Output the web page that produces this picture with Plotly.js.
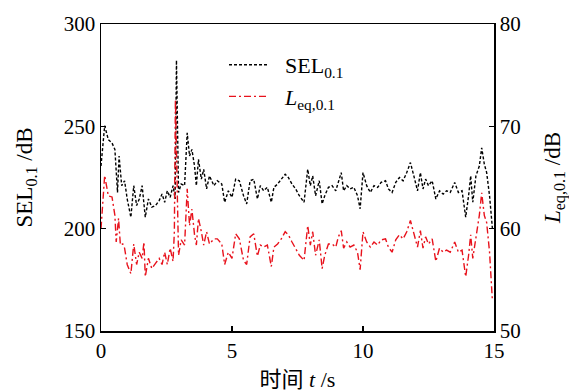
<!DOCTYPE html>
<html>
<head>
<meta charset="utf-8">
<script src="https://cdn.plot.ly/plotly-3.0.1.min.js"></script>
<style>html,body{margin:0;padding:0;background:#fff;}#chart{width:569px;height:392px;}</style>
</head>
<body>
<div id="chart"></div>
<script>
// SEL_0.1 (left axis, dB)
const selTime = [0.00,0.14,0.28,0.42,0.53,0.63,0.69,0.79,0.90,1.00,1.14,1.25,1.36,1.46,1.57,1.69,1.81,1.94,2.08,2.22,2.33,2.43,2.53,2.64,2.75,2.83,2.88,
2.96,3.06,3.19,3.29,3.38,3.47,3.57,3.64,3.72,3.83,3.92,4.03,4.14,4.31,4.44,4.61,4.72,4.86,5.00,5.14,5.28,5.44,5.56,5.69,5.83,5.97,6.08,6.21,6.35,6.50,6.60,6.74,6.88,
7.03,7.15,7.29,7.43,7.57,7.75,7.89,7.99,8.08,8.19,8.33,8.44,8.54,8.68,8.82,8.96,9.06,9.17,9.26,9.38,9.51,9.65,9.79,9.89,10.00,10.14,10.28,10.42,10.56,10.69,10.86,10.97,
11.11,11.25,11.39,11.53,11.67,11.81,11.94,12.08,12.19,12.29,12.39,12.50,12.64,12.78,12.92,13.06,13.19,13.33,13.50,13.64,13.78,13.92,14.03,14.11,14.19,14.31,14.44,14.53,14.63,14.72,14.83,14.94];
const selValues = [230.6,250.3,243.5,241.9,238.7,217.7,235.5,221.0,223.4,214.5,205.6,221.0,211.3,214.5,221.0,205.6,214.5,210.5,211.3,213.7,216.9,212.9,218.5,215.3,221.0,214.5,282.3,
217.7,221.8,221.0,246.8,235.5,238.7,230.6,221.0,233.9,224.2,229.0,219.4,225.8,221.0,223.4,221.8,212.9,218.5,215.3,224.2,223.4,216.1,212.1,223.4,224.2,214.5,221.0,218.5,220.2,212.9,220.2,221.8,224.2,
226.6,225.0,221.8,219.4,216.1,212.9,229.0,221.0,225.8,216.1,223.4,212.1,216.1,220.2,221.0,218.5,223.4,227.4,218.5,221.0,219.4,220.2,216.1,209.7,227.4,221.0,217.7,221.0,220.2,222.6,223.4,219.4,
217.7,222.6,225.0,223.4,227.4,232.3,225.8,218.5,227.4,219.4,224.2,221.0,223.4,214.5,218.5,216.9,218.5,217.7,222.6,217.7,218.5,205.6,216.1,225.8,212.9,225.8,230.6,239.5,231.5,227.4,216.1,200.0];

// L_eq,0.1 (right axis, dB)
const leqTime = [0.00,0.14,0.28,0.42,0.53,0.58,0.67,0.74,0.83,0.90,1.00,1.14,1.25,1.36,1.46,1.57,1.64,1.69,1.81,1.94,2.08,2.22,2.33,2.43,2.53,2.64,2.75,2.80,2.84,
2.96,3.06,3.19,3.29,3.38,3.47,3.57,3.64,3.72,3.83,3.92,4.03,4.14,4.31,4.44,4.61,4.72,4.86,5.00,5.14,5.28,5.44,5.56,5.69,5.83,5.97,6.08,6.21,6.35,6.50,6.60,6.74,6.88,
7.03,7.15,7.29,7.43,7.57,7.75,7.89,7.99,8.08,8.19,8.33,8.44,8.54,8.68,8.82,8.96,9.06,9.17,9.26,9.38,9.51,9.65,9.79,9.89,10.00,10.14,10.28,10.42,10.56,10.69,10.86,10.97,
11.11,11.25,11.39,11.53,11.67,11.81,11.94,12.08,12.19,12.29,12.39,12.50,12.64,12.78,12.92,13.06,13.19,13.33,13.50,13.64,13.78,13.92,14.03,14.11,14.19,14.31,14.44,14.53,14.63,14.72,14.83,14.94];
const leqValues = [60.0,65.2,63.2,63.1,61.3,58.7,61.0,58.4,58.5,58.1,56.5,55.6,58.5,56.5,57.7,57.1,58.7,55.3,57.1,56.1,56.6,57.1,56.5,57.7,56.5,58.1,56.8,59.7,72.6,
57.4,58.9,58.4,63.9,60.3,61.9,59.4,58.4,61.0,59.7,58.4,59.7,58.5,59.0,59.0,58.5,56.5,57.7,57.1,59.5,59.0,56.9,56.5,59.2,59.5,57.3,58.4,58.2,58.4,56.3,58.2,58.5,59.0,
59.7,59.4,58.7,58.1,57.4,56.9,60.3,58.4,59.7,57.4,58.9,56.1,57.4,58.5,58.5,58.2,59.2,59.8,58.1,58.7,58.2,58.4,57.7,56.0,59.7,58.7,58.2,58.7,58.4,58.9,59.0,58.2,
57.7,58.9,59.4,59.0,59.7,60.8,59.5,58.2,59.8,58.1,59.2,58.5,59.0,56.8,58.1,57.7,57.9,57.7,58.7,57.7,57.9,55.3,57.4,59.4,57.1,59.0,61.3,63.5,61.3,60.6,57.7,52.9];

const xTicks = [0, 5, 10, 15];
const yTicks = [150, 200, 250, 300];
const y2Ticks = [50, 60, 70, 80];

const FONT = '"Liberation Serif", "Noto Sans CJK SC", serif';

const traces = [
  {x: selTime, y: selValues, type: 'scatter', mode: 'lines', name: '&nbsp;&nbsp;SEL<sub>0.1</sub>',
   line: {color: '#000000', width: 1.4, dash: '3px,2px'}, yaxis: 'y'},
  {x: leqTime, y: leqValues, type: 'scatter', mode: 'lines', name: '&nbsp;&nbsp;<i>L</i><sub>eq,0.1</sub>',
   line: {color: '#e8121c', width: 1.4, dash: '7px,3px,2px,3px'}, yaxis: 'y2'}
];

const axisCommon = {
  showgrid: false, zeroline: false, showline: true, linecolor: '#000', linewidth: 1.5,
  ticks: 'inside', ticklen: 5, tickwidth: 1.2, tickcolor: '#000',
  tickfont: {family: FONT, size: 21, color: '#000'}
};

const layout = {
  width: 569, height: 392,
  margin: {l: 101, r: 75, t: 24, b: 61},
  paper_bgcolor: '#fff', plot_bgcolor: '#fff',
  font: {family: FONT, color: '#000'},
  showlegend: true,
  legend: {x: 0.313, y: 0.935, xanchor: 'left', yanchor: 'top', bgcolor: 'rgba(0,0,0,0)',
           font: {family: FONT, size: 22, color: '#000'}, itemwidth: 40, tracegroupgap: 0},
  xaxis: Object.assign({}, axisCommon, {range: [0, 15], tickvals: xTicks, mirror: true,
    title: {text: '时间 <i>t</i> /s', font: {family: FONT, size: 22}, standoff: 12}}),
  yaxis: Object.assign({}, axisCommon, {range: [150, 300], tickvals: yTicks,
    title: {text: 'SEL<sub>0.1</sub> /dB', font: {family: FONT, size: 23}, standoff: 24}}),
  yaxis2: Object.assign({}, axisCommon, {range: [50, 80], tickvals: y2Ticks, overlaying: 'y', side: 'right',
    title: {text: '<i>L</i><sub>eq,0.1</sub> /dB', font: {family: FONT, size: 23}, standoff: 25}})
};

Plotly.newPlot('chart', traces, layout, {displayModeBar: false, staticPlot: true});
</script>
</body>
</html>
